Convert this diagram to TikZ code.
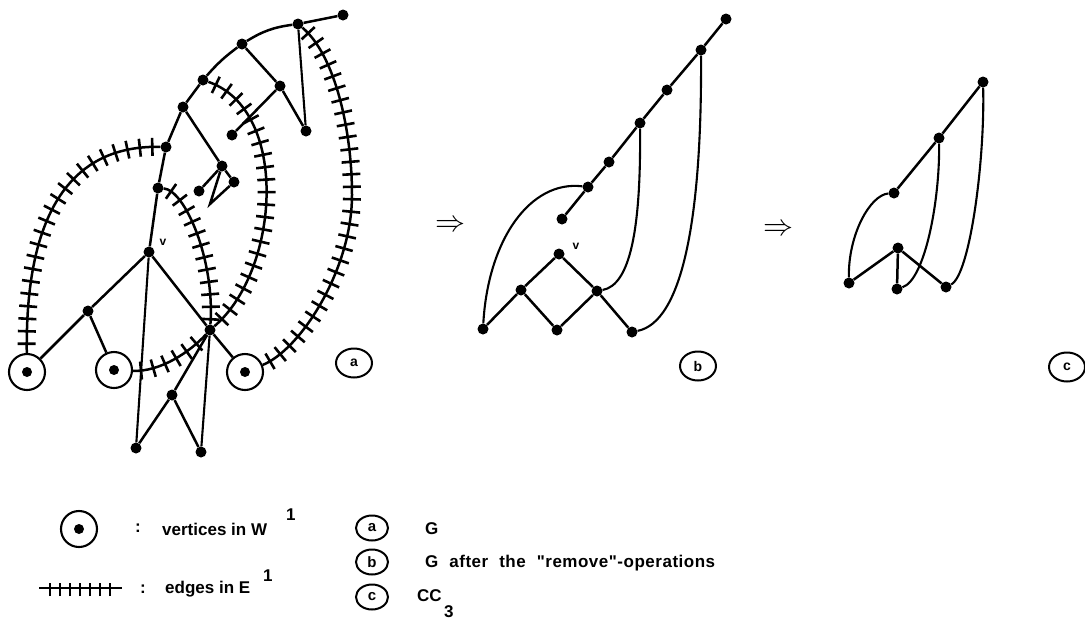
\documentclass[tikz,border=0pt]{standalone}
\usepackage{fontspec}
\setmainfont{Liberation Sans}[Ligatures=TeXOff]
\usetikzlibrary{decorations.markings,shapes.geometric}
\begin{document}
\begin{tikzpicture}[x=1pt,y=-1pt,
  dot/.style={circle,fill,inner sep=0pt,minimum size=11pt},
  wnode/.style={circle,draw,line width=2.1pt,inner sep=0pt,minimum size=36pt},
  ln/.style={line width=2.5pt},
  lnb/.style={line width=2.1pt},
  hatch/.style={line width=2.5pt, postaction={decorate,decoration={markings,
     mark=between positions 8pt and -5pt step 12.5pt with {\draw[line width=2.6pt] (0,-9pt) -- (0,9pt);}}}},
  hatchleg/.style={line width=2.1pt, postaction={decorate,decoration={markings,
     mark=between positions 11pt and 72pt step 10pt with {\draw[line width=2.3pt] (0,-8pt) -- (0,5pt);}}}},
  lab/.style={ellipse,draw,line width=2pt,minimum width=36pt,minimum height=29pt,inner sep=0pt,font=\bfseries\fontsize{14}{14}\selectfont},
  legl/.style={ellipse,draw,line width=2pt,minimum width=32pt,minimum height=25pt,inner sep=0pt,font=\bfseries\fontsize{15}{15}\selectfont},
  txt/.style={font=\bfseries\fontsize{17}{17}\selectfont,inner sep=0pt,anchor=west},
  vlab/.style={font=\bfseries\fontsize{12}{12}\selectfont,inner sep=0pt},
]
\useasboundingbox (0,0) rectangle (1085,633);

% ---------------- panel a ----------------
\node[dot] (T1) at (343,15) {};
\node[dot] (T2) at (298,24) {};
\node[dot] (T3) at (242,44) {};
\node[dot] (T4) at (203,80) {};
\node[dot] (T5) at (183,107) {};
\node[dot] (T6) at (166,147) {};
\node[dot] (T7) at (158,188) {};
\node[dot] (V) at (149,252) {};
\node[dot] (A) at (280,86) {};
\node[dot] (B) at (306,131) {};
\node[dot] (C) at (232,135) {};
\node[dot] (D) at (222,166) {};
\node[dot] (E) at (234,182) {};
\node[dot] (F) at (199,191) {};
\coordinate (Fk) at (210,204);
\node[dot] (P) at (88,311) {};
\node[dot] (X) at (210,330) {};
\node[dot] (R) at (172,395) {};
\node[dot] (Q1) at (136,448) {};
\node[dot] (Q2) at (201,452) {};
\node[wnode] (W1) at (27,372) {};
\node[wnode] (W2) at (114,370) {};
\node[wnode] (W3) at (245,372) {};
\fill (W1.center) circle (5pt);
\fill (W2.center) circle (5pt);
\fill (W3.center) circle (5pt);
\coordinate (M2) at (352,195);
\node[vlab] (va) at (163,242) {v};

\draw[ln] (T1) -- (T2);
\draw[ln] (T3) to[bend left=12] (T2);
\draw[ln] (T4) to[bend left=6] (T3);
\draw[ln] (T5) -- (T4);
\draw[ln] (T6) -- (T5);
\draw[ln] (T7) -- (T6);
\draw[ln] (V) -- (T7);
\draw[ln] (T3) -- (A);
\draw[ln] (A) -- (B);
\draw[lnb] (T2) -- (B);
\draw[ln] (A) -- (C);
\draw[ln] (T5) -- (D);
\draw[ln] (D) -- (E);
\draw[ln] (F) -- (D);
\draw[ln] (D) -- (Fk) -- (E);
\draw[ln] (V) -- (P);
\draw[ln] (P) -- (W1);
\draw[ln] (P) -- (W2);
\draw[ln] (V) -- (X);
\draw[ln] (X) -- (W3);
\draw[lnb] (V) -- (Q1);
\draw[ln] (X) -- (R);
\draw[ln] (R) -- (Q1);
\draw[ln] (R) -- (Q2);
\draw[lnb] (X) -- (Q2);

\draw[hatch] (T6) .. controls (80,145) and (25,200) .. (W1);
\draw[hatch] (T7) .. controls (185,190) and (215,260) .. (X);
\draw[hatch] (T4) .. controls (290,110) and (280,270) .. (X);
\draw[hatch] (W2) .. controls (160,372) and (190,352) .. (X);
\draw[hatch] (T2) .. controls (335,55) and (352,130) .. (M2) .. controls (352,270) and (300,350) .. (W3);

\node[lab] (la) at (354,363) {a};

% ---------------- arrows ----------------
\node[scale=3] (ar1) at (450,226) {$\Rightarrow$};
\node[scale=3] (ar2) at (778,230) {$\Rightarrow$};

% ---------------- panel b ----------------
\node[dot] (b1) at (483,329) {};
\node[dot] (b2) at (521,290) {};
\node[dot] (bv) at (559,254) {};
\node[dot] (b3) at (557,330) {};
\node[dot] (b4) at (597,291) {};
\node[dot] (b5) at (632,332) {};
\node[dot] (b6) at (562,219) {};
\node[dot] (b7) at (588,187) {};
\node[dot] (b8) at (609,162) {};
\node[dot] (b9) at (640,123) {};
\node[dot] (b10) at (667,90) {};
\node[dot] (b11) at (701,50) {};
\node[dot] (b12) at (726,19) {};
\node[vlab] (vb) at (576,246) {v};

\draw[ln] (b1) -- (b2);
\draw[ln] (b2) -- (bv);
\draw[ln] (bv) -- (b4);
\draw[ln] (b2) -- (b3);
\draw[ln] (b3) -- (b4);
\draw[ln] (b4) -- (b5);
\draw[ln] (b6) -- (b7) -- (b8) -- (b9) -- (b10) -- (b11) -- (b12);
\draw[lnb] (b1) .. controls (488,240) and (530,180) .. (b7);
\draw[lnb] (b4) .. controls (630,285) and (641,230) .. (b9);
\draw[lnb] (b5) .. controls (682,322) and (702,220) .. (b11);

\node[lab] (lb) at (698,366) {b};

% ---------------- panel c ----------------
\node[dot] (c1) at (849,283) {};
\node[dot] (c2) at (898,248) {};
\node[dot] (c3) at (897,289) {};
\node[dot] (c4) at (946,287) {};
\node[dot] (c5) at (894,193) {};
\node[dot] (c6) at (939,138) {};
\node[dot] (c7) at (983,82) {};

\draw[ln] (c1) -- (c2);
\draw[ln] (c2) -- (c3);
\draw[ln] (c2) -- (c4);
\draw[ln] (c5) -- (c6) -- (c7);
\draw[lnb] (c1) .. controls (848,235) and (870,195) .. (c5);
\draw[lnb] (c3) .. controls (925,280) and (940,200) .. (c6);
\draw[lnb] (c4) .. controls (970,275) and (985,160) .. (c7);

\node[lab] (lc) at (1067,367) {c};

% ---------------- legend ----------------
\node[wnode] (lw) at (79,529) {};
\fill (lw.center) circle (5pt);
\node[txt] (col1) at (135,528) {:};
\node[txt] (tw) at (162,529) {vertices in W};
\node[txt] (tw1) at (286,515) {1};

\coordinate (h1) at (39,588);
\coordinate (h2) at (122,588);
\draw[hatchleg] (h1) -- (h2);
\node[txt] (col2) at (140,589) {:};
\node[txt] (te) at (165,589) {edges in E};
\node[txt] (te1) at (263,576) {1};

\node[legl] (ka) at (372,528) {a};
\node[legl] (kb) at (372,562) {b};
\node[legl] (kc) at (372,597) {c};
\node[txt] (ta) at (425,529) {G};
\node[txt] (tb) at (425,563) {\addfontfeature{LetterSpace=3}G\hspace{11pt}after\hspace{11pt}the\hspace{11pt}"remove"-operations};
\node[txt] (tc) at (417,596) {CC};
\node[txt] (tc3) at (444,612) {3};
\end{tikzpicture}
\end{document}
